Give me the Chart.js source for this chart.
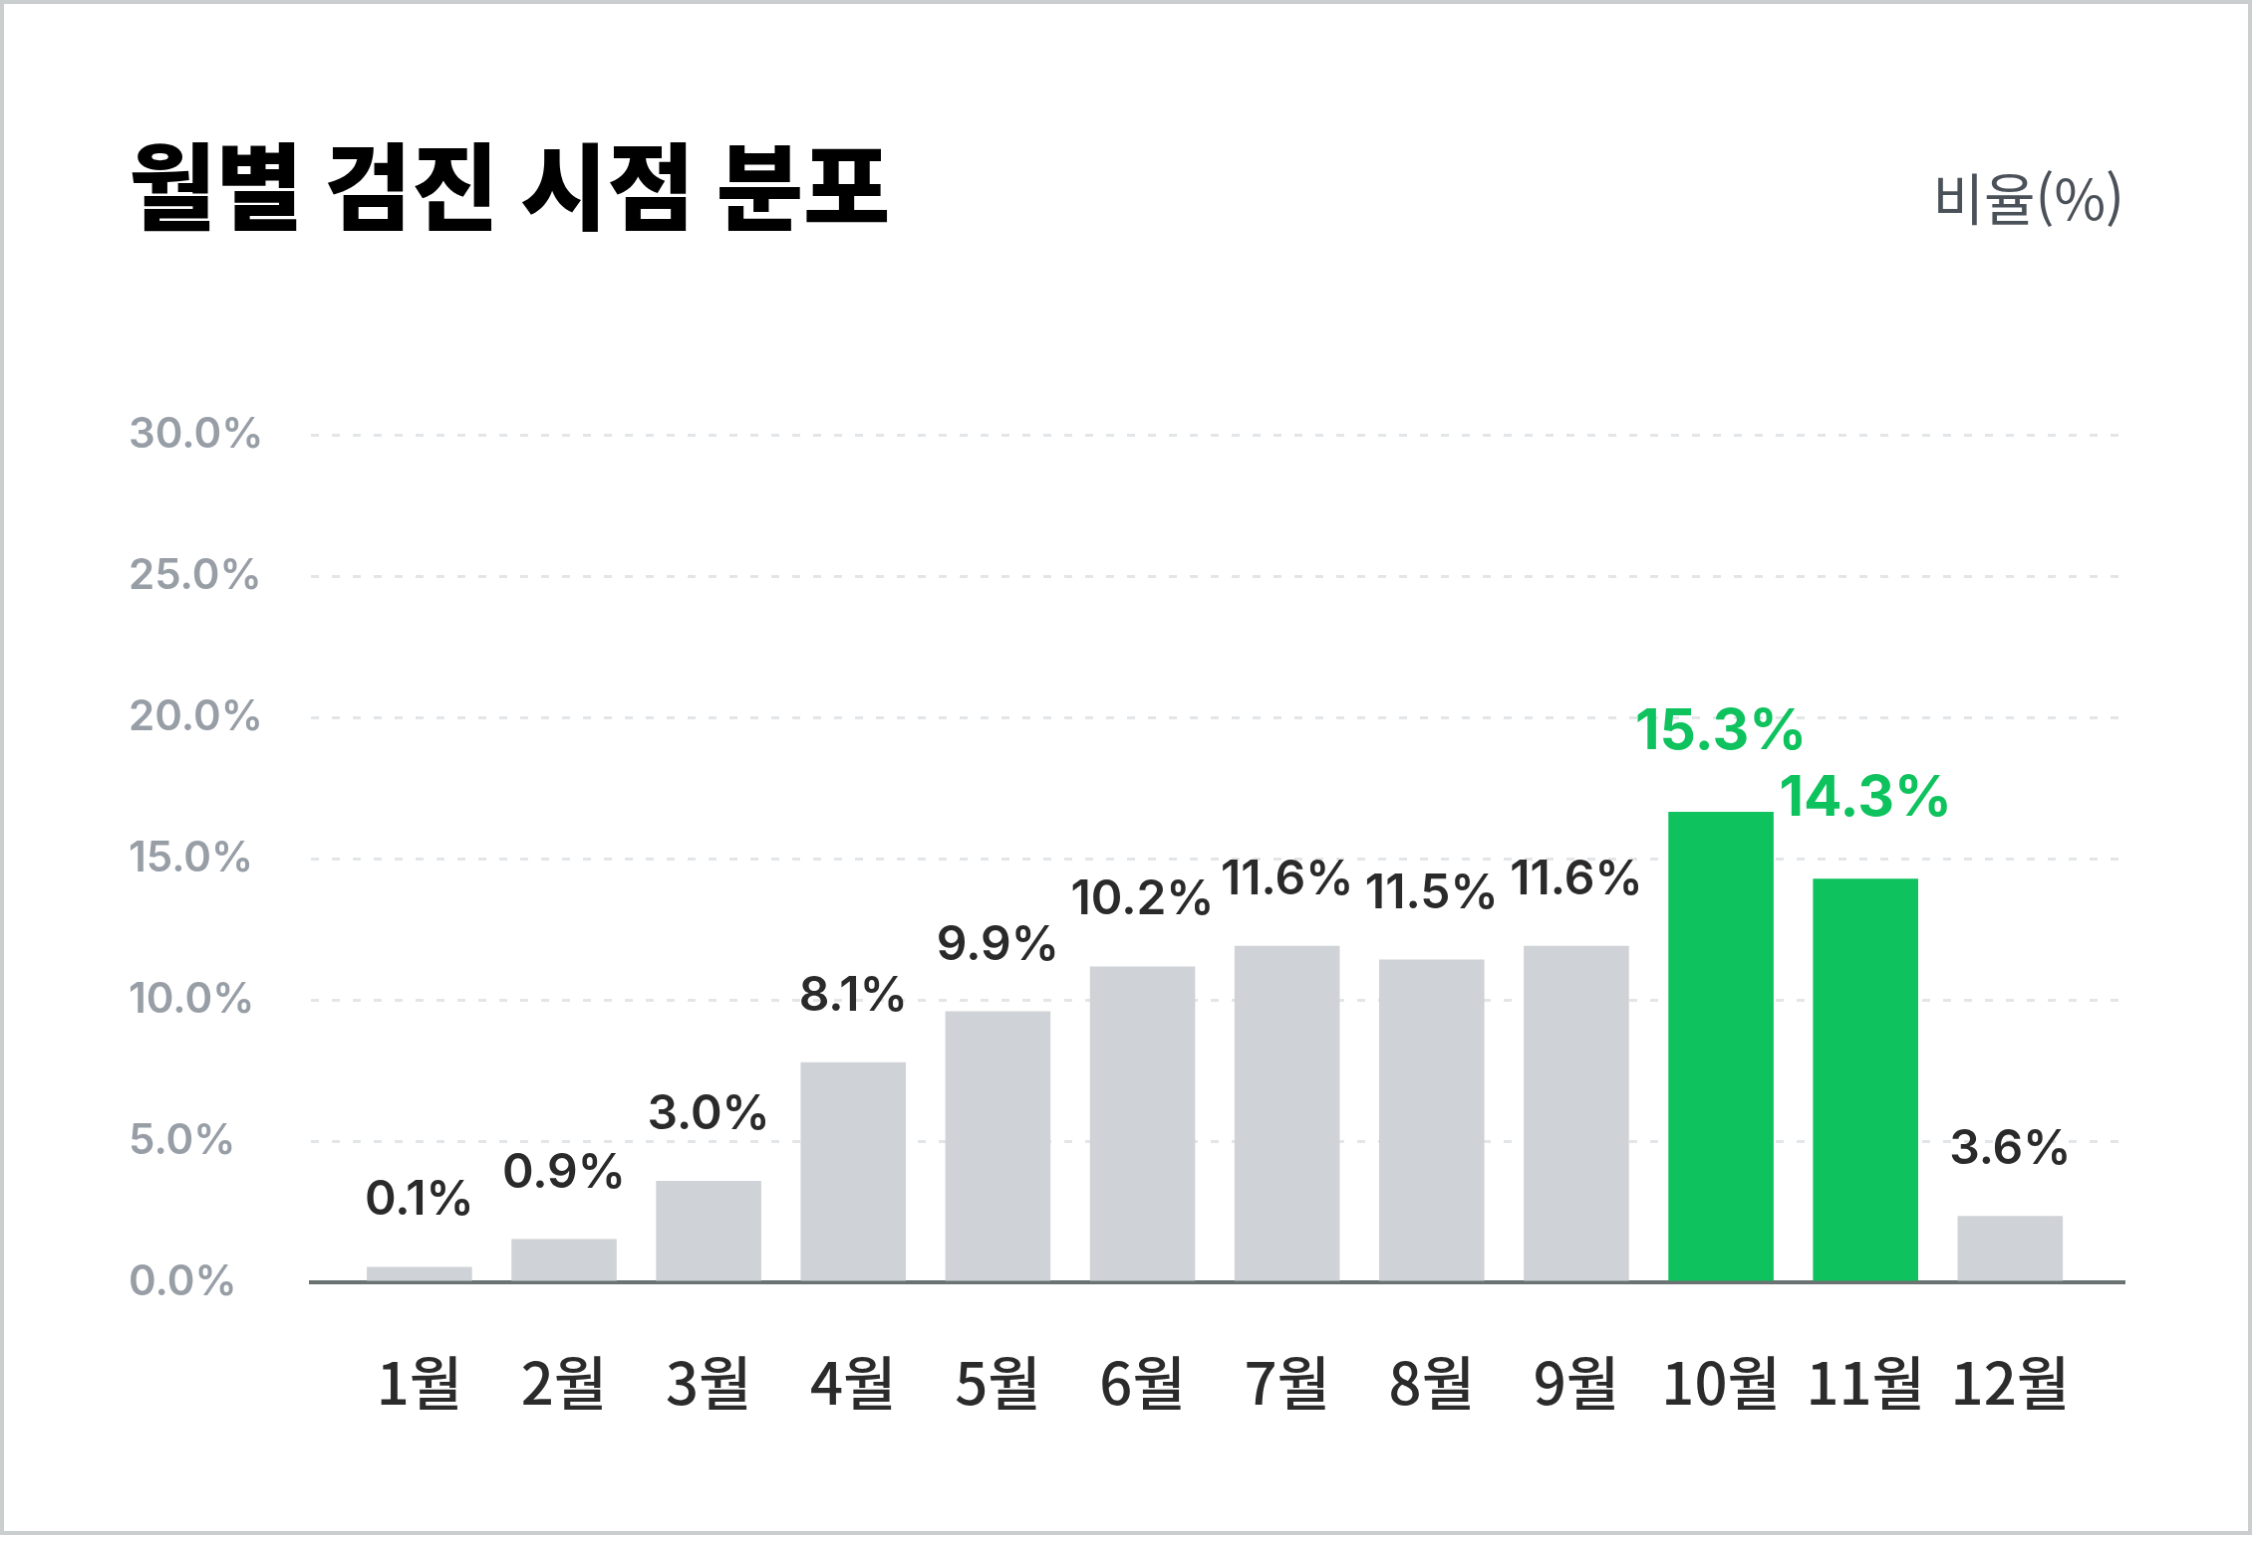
<!DOCTYPE html>
<html lang="ko">
<head>
<meta charset="utf-8">
<title>월별 검진 시점 분포</title>
<script src="https://cdn.jsdelivr.net/npm/chart.js@4.4.1/dist/chart.umd.min.js"></script>
<style>
  html, body { margin: 0; padding: 0; background: #fff; }
  #wrap { width: 2260px; height: 1543px; }
  #chart { display: block; border: 4px solid #cbcece; }
</style>
</head>
<body>
<div id="wrap"><canvas id="chart" width="2252" height="1535" style="width:2252px;height:1535px"></canvas></div>
<script>
// 카테고리 (월)
const months = ["1월", "2월", "3월", "4월", "5월", "6월", "7월", "8월", "9월", "10월", "11월", "12월"];

// 막대 높이 (그림에서 읽은 값, %)
const barValues = [0.55, 1.53, 3.59, 7.8, 9.6, 11.19, 11.92, 11.43, 11.92, 16.67, 14.3, 2.35];

// 막대 위에 표시된 수치 (%)
const labelValues = [0.1, 0.9, 3.0, 8.1, 9.9, 10.2, 11.6, 11.5, 11.6, 15.3, 14.3, 3.6];

// 강조 표시할 달
const highlightMonths = ["10월", "11월"];

// y축 눈금
const yTicks = [0, 5, 10, 15, 20, 25, 30];

const GRAY = "#cfd2d6";
const GREEN = "#0ec25e";
const NUM_FONT = "Inter, 'Noto Sans CJK KR', sans-serif";
const KR_FONT = "'Noto Sans CJK KR', 'Noto Sans', sans-serif";

function isHighlight(i) {
  return highlightMonths.includes(months[i]);
}

// 막대 위 수치와 우측 단위 라벨
const valueLabelPlugin = {
  id: "valueLabels",
  afterDatasetsDraw(chart) {
    const ctx = chart.ctx;
    const meta = chart.getDatasetMeta(0);
    ctx.save();
    ctx.textAlign = "center";
    ctx.textBaseline = "alphabetic";
    meta.data.forEach((bar, i) => {
      const text = labelValues[i].toFixed(1) + "%";
      if (isHighlight(i)) {
        ctx.font = "700 57px " + NUM_FONT;
        ctx.fillStyle = GREEN;
        ctx.fillText(text, bar.x, bar.y - 63);
      } else {
        ctx.font = "600 48px " + NUM_FONT;
        ctx.fillStyle = "#2a2a2a";
        ctx.fillText(text, bar.x, bar.y - 52);
      }
    });

    ctx.font = "400 56px " + KR_FONT;
    ctx.fillStyle = "#4a5159";
    ctx.textAlign = "right";
    ctx.textBaseline = "middle";
    ctx.fillText("비율(%)", chart.chartArea.right, 196);
    ctx.restore();
  }
};

const canvas = document.getElementById("chart");

const myChart = new Chart(canvas, {
  type: "bar",
  data: {
    labels: months,
    datasets: [
      {
        label: "비율",
        data: barValues.map((v, i) => ({ x: i, y: v })),
        backgroundColor: months.map((m, i) => (isHighlight(i) ? GREEN : GRAY)),
        borderWidth: 0,
        barPercentage: 0.7275,
        categoryPercentage: 1
      }
    ]
  },
  options: {
    responsive: false,
    animation: false,
    devicePixelRatio: 1,
    layout: {
      padding: { left: 125, right: 124, top: 0, bottom: 0 }
    },
    plugins: {
      legend: { display: false },
      tooltip: { enabled: false },
      title: {
        display: true,
        text: "월별 검진 시점 분포",
        align: "start",
        color: "#000",
        font: { family: KR_FONT, size: 95, weight: 900, lineHeight: 1 },
        padding: { top: 136, bottom: 202.6 }
      }
    },
    scales: {
      x: {
        type: "linear",
        offset: false,
        min: -0.75,
        max: 11.79,
        z: 1,
        afterBuildTicks(scale) {
          scale.ticks = months.map((m, i) => ({ value: i }));
        },
        afterFit(scale) {
          scale.height = 250;
        },
        grid: { display: false, drawTicks: false, offset: false },
        border: { display: true, color: "#6b7372", width: 4 },
        ticks: {
          callback: (v) => months[v],
          color: "#2b2b2b",
          padding: 72,
          maxRotation: 0,
          autoSkip: false,
          font: { family: KR_FONT, size: 58, weight: 500, lineHeight: 1 }
        }
      },
      y: {
        min: yTicks[0],
        max: yTicks[yTicks.length - 1],
        afterBuildTicks(scale) {
          scale.ticks = yTicks.map((v) => ({ value: v }));
        },
        afterFit(scale) {
          scale.width = 183;
        },
        grid: {
          color: "#e3e6e9",
          lineWidth: 3,
          drawTicks: false
        },
        border: { display: false, dash: [8, 13] },
        ticks: {
          callback: (v) => v.toFixed(1) + "%",
          color: "#979ea6",
          crossAlign: "far",
          padding: 0,
          font: { family: NUM_FONT, size: 42, weight: 600 }
        }
      }
    }
  },
  plugins: [valueLabelPlugin]
});
</script>
</body>
</html>
